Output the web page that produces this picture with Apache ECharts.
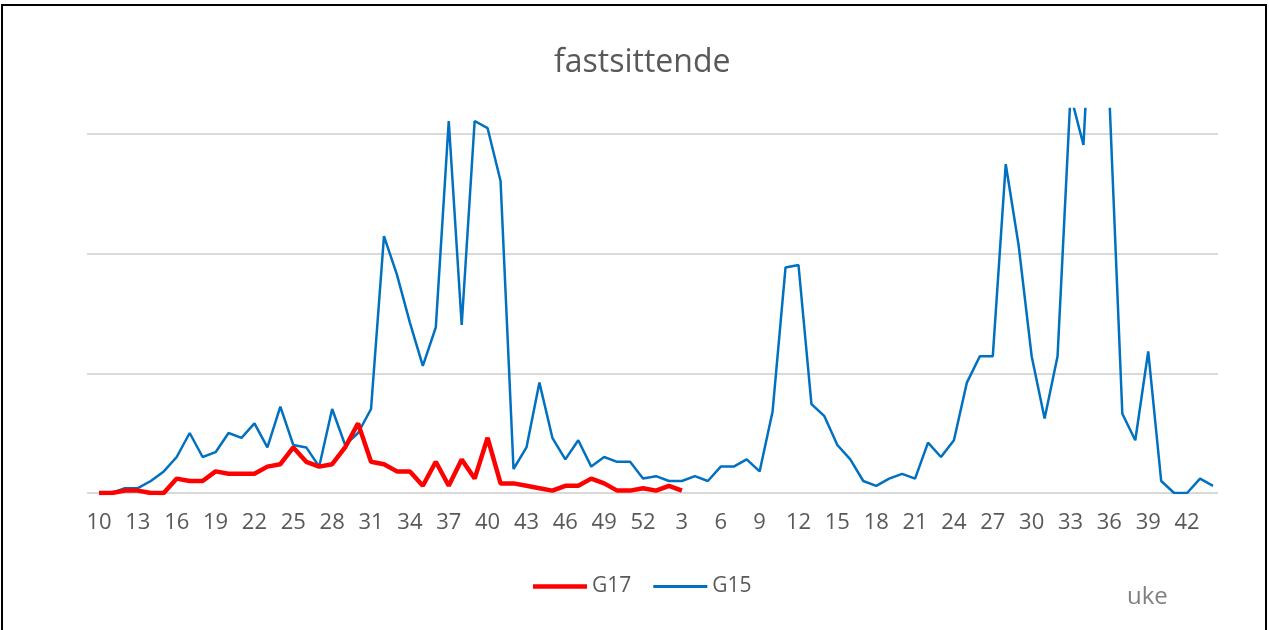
<!DOCTYPE html>
<html>
<head>
<meta charset="utf-8">
<script src="https://cdn.jsdelivr.net/npm/echarts@6/dist/echarts.min.js"></script>
<style>
  html, body { margin: 0; padding: 0; background: #fff; }
  #chart { width: 1269px; height: 630px; }
  .frame {
    position: absolute; left: 1px; top: 4px;
    width: 1262px; height: 700px;
    border: 2px solid #000; pointer-events: none;
  }
</style>
</head>
<body>
<div id="chart"></div>
<div class="frame"></div>
<script>
// uker: 10-52, deretter 1-44 året etter
const weeks = [
  '10','11','12','13','14','15','16','17','18','19','20','21','22','23','24','25','26','27','28','29',
  '30','31','32','33','34','35','36','37','38','39','40','41','42','43','44','45','46','47','48','49',
  '50','51','52','1','2','3','4','5','6','7','8','9','10','11','12','13','14','15','16','17',
  '18','19','20','21','22','23','24','25','26','27','28','29','30','31','32','33','34','35','36','37',
  '38','39','40','41','42','43','44'
];

const g17 = [0,0,1,1,0,0,6,5,5,9,8,8,8,11,12,19,13,11,12,19,29,13,12,9,9,3,13,3,14,6,
  23,4,4,3,2,1,3,3,6,4,1,1,2,1,3,1];

const g15 = [0,0,2,2,5,9,15,25,15,17,
  25,23,29,19,36,20,19,11,35,20,
  25,35,107,91,71,53,69,155,70,155,
  152,130,10,19,46,23,14,22,11,15,
  13,13,6,7,5,5,7,5,11,11,
  14,9,34,94,95,37,32,20,14,5,
  3,6,8,6,21,15,22,46,57,57,
  137,103,57,31,57,166,145,250,165,33,
  22,59,5,0,0,6,3];

const font = '"Open Sans", sans-serif';

const chart = echarts.init(document.getElementById('chart'));
chart.setOption({
  animation: false,
  title: {
    text: 'fastsittende',
    left: 549,
    top: 42,
    textStyle: { fontFamily: font, fontSize: 32, fontWeight: 'normal', color: '#595959' }
  },
  legend: {
    data: [
      { name: 'G17', icon: 'path://M0,0H54V4.5H0Z' },
      { name: 'G15', icon: 'path://M0,0H54V3H0Z' }
    ],
    left: 528,
    top: 571,
    itemWidth: 54,
    itemHeight: 14,
    itemGap: 22,
    textStyle: { fontFamily: font, fontSize: 21, color: '#595959' }
  },
  grid: [
    { left: 99, right: 56, top: 109, bottom: 137 },
    { left: 87, right: 51, top: 134, bottom: 137 }
  ],
  xAxis: [
    {
      type: 'category',
      data: weeks,
      boundaryGap: false,
      axisLine: { show: false },
      axisTick: { show: false },
      axisLabel: { interval: 2, margin: 19, fontFamily: font, fontSize: 22, color: '#595959' }
    },
    { type: 'value', gridIndex: 1, show: false, min: 0, max: 1 }
  ],
  yAxis: [
    { type: 'value', min: 0, max: 160, show: false },
    {
      type: 'value', gridIndex: 1, min: 0, max: 150, interval: 50,
      axisLine: { show: false },
      axisTick: { show: false },
      axisLabel: { show: false },
      splitLine: { lineStyle: { color: '#d9d9d9', width: 2 } }
    }
  ],
  graphic: [
    {
      type: 'text', left: 1127, top: 585,
      style: { text: 'uke', font: '24px ' + font, fill: '#808080' }
    }
  ],
  series: [
    {
      name: 'G15', type: 'line', data: g15, symbol: 'none',
      lineStyle: { color: '#0070c0', width: 2.5 },
      itemStyle: { color: '#0070c0' }
    },
    {
      name: 'G17', type: 'line', data: g17, symbol: 'none',
      lineStyle: { color: '#ff0000', width: 4.5 },
      itemStyle: { color: '#ff0000' }
    }
  ]
});
</script>
</body>
</html>
